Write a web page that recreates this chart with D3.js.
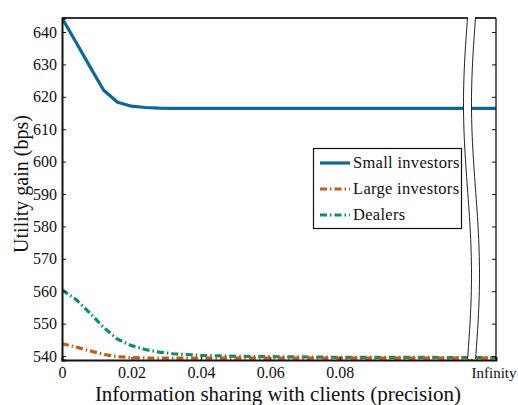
<!DOCTYPE html>
<html>
<head>
<meta charset="utf-8">
<script src="https://cdn.jsdelivr.net/npm/d3@7/dist/d3.min.js"></script>
<style>
  html, body { margin: 0; padding: 0; background: #fff; }
  svg { display: block; font-family: "Liberation Serif", "DejaVu Serif", serif; }
</style>
</head>
<body>
<svg id="chart" width="518" height="405"></svg>
<script>
// Precision grid (finite part) and the value used for the "Infinity" column
const precision = [0, 0.004, 0.008, 0.012, 0.016, 0.02, 0.024, 0.028, 0.032, 0.04, 0.05, 0.06, 0.08, 0.1, 0.116];
const infinityPos = 0.125;

// Utility gain (bps) per group
const smallInvestors = [644.3, 636.9, 629.4, 622.0, 618.3, 617.1, 616.7, 616.5, 616.45, 616.4, 616.4, 616.4, 616.4, 616.4, 616.4];
const largeInvestors = [543.8, 542.8, 541.6, 540.5, 539.8, 539.5, 539.4, 539.35, 539.35, 539.35, 539.35, 539.35, 539.35, 539.35, 539.35];
const dealers        = [560.4, 557.5, 553.3, 548.8, 545.2, 543.2, 542.0, 541.2, 540.7, 540.2, 539.9, 539.8, 539.6, 539.6, 539.5];
const smallInf = 616.4, largeInf = 539.35, dealersInf = 539.5;

const xTicks = [0, 0.02, 0.04, 0.06, 0.08];
const xTickLabels = ["0", "0.02", "0.04", "0.06", "0.08"];
const yTicks = [540, 550, 560, 570, 580, 590, 600, 610, 620, 630, 640];
const seriesNames = ["Small investors", "Large investors", "Dealers"];
const seriesColors = ["#0b679c", "#c85a12", "#0a8f6c"];

const svg = d3.select("#chart");
const L = 62, R = 496, T = 18, B = 360;
const FONT = "Liberation Serif, serif";

const x = d3.scaleLinear().domain([0, infinityPos]).range([L, R]);
const y = d3.scaleLinear().domain([538.77, 644.32]).range([B, T]);

const series = [
  { name: seriesNames[0], color: seriesColors[0], vals: smallInvestors, inf: smallInf, dash: null },
  { name: seriesNames[1], color: seriesColors[1], vals: largeInvestors, inf: largeInf, dash: "7,3,1.5,3" },
  { name: seriesNames[2], color: seriesColors[2], vals: dealers, inf: dealersInf, dash: "7,3,1.5,3" }
];

const line = d3.line().x(d => x(d[0])).y(d => y(d[1]));

svg.append("clipPath").attr("id", "plotClip")
  .append("rect").attr("x", L).attr("y", T - 2).attr("width", R - L).attr("height", B - T + 2);

const gLines = svg.append("g").attr("clip-path", "url(#plotClip)");
series.slice().reverse().forEach(s => {
  const pts = precision.map((p, i) => [p, s.vals[i]]).concat([[infinityPos, s.inf]]);
  gLines.append("path")
    .attr("d", line(pts))
    .attr("fill", "none")
    .attr("stroke", s.color)
    .attr("stroke-width", 3.2)
    .attr("stroke-dasharray", s.dash)
    .attr("stroke-linejoin", "round");
});

// Frame
svg.append("line").attr("x1", L).attr("x2", R).attr("y1", T).attr("y2", T)
  .attr("stroke", "#333").attr("stroke-width", 1.8);
svg.append("line").attr("x1", R).attr("x2", R).attr("y1", T).attr("y2", B)
  .attr("stroke", "#222").attr("stroke-width", 1.4);

// Left axis
const yAxis = d3.axisLeft(y).tickValues(yTicks).tickSize(-4).tickPadding(5);
const gy = svg.append("g").attr("transform", `translate(${L},0)`).call(yAxis);
gy.attr("font-family", FONT);
gy.select(".domain").attr("stroke", "#111").attr("stroke-width", 2);
gy.selectAll(".tick line").attr("stroke", "#111");
gy.selectAll(".tick text").attr("font-size", 16).attr("fill", "#111")
  .attr("font-family", FONT);

// Right axis mirror ticks
const yAxisR = d3.axisRight(y).tickValues(yTicks).tickSize(-4).tickFormat("");
const gyr = svg.append("g").attr("transform", `translate(${R},0)`).call(yAxisR);
gyr.select(".domain").remove();
gyr.selectAll(".tick line").attr("stroke", "#111");

// Bottom axis
const xAxis = d3.axisBottom(x)
  .tickValues(xTicks.concat([infinityPos]))
  .tickFormat((d, i) => i < xTickLabels.length ? xTickLabels[i] : "Infinity")
  .tickSize(-3).tickPadding(7);
const gx = svg.append("g").attr("transform", `translate(0,${B})`).call(xAxis);
gx.attr("font-family", FONT);
gx.select(".domain").attr("stroke", "#111").attr("stroke-width", 2);
gx.selectAll(".tick line").attr("stroke", "#111");
gx.selectAll(".tick text").attr("font-size", 16).attr("fill", "#111")
  .attr("font-family", FONT);
// keep the "Infinity" label inside the canvas
gx.selectAll(".tick text").filter(d => d === infinityPos)
  .attr("font-size", 15).attr("text-anchor", "end").attr("x", 20);

// Axis break between the finite grid and Infinity
const bx = 467.5, gap = 8, amp = 4;
const breakY = d3.range(0, 61).map(i => T - 1 + (B - 1 - (T - 1)) * i / 60);
const curve = off => breakY.map(yy => [bx + off - amp * Math.sin(2 * Math.PI * (yy - T) / (B - T)), yy]);
const leftEdge = curve(0), rightEdge = curve(gap);
const raw = d3.line();
svg.append("path")
  .attr("d", raw(leftEdge.concat(rightEdge.slice().reverse())) + "Z")
  .attr("fill", "#fff").attr("stroke", "none");
[leftEdge, rightEdge].forEach(c => {
  svg.append("path").attr("d", raw(c)).attr("fill", "none")
    .attr("stroke", "#222").attr("stroke-width", 1);
});

// Legend
const lg = svg.append("g");
lg.append("rect").attr("x", 313.5).attr("y", 148.5).attr("width", 148).attr("height", 80)
  .attr("fill", "#fff").attr("stroke", "#111").attr("stroke-width", 1.2);
const rowY = [163, 189, 215];
series.forEach((s, i) => {
  lg.append("line").attr("x1", 320).attr("x2", 350).attr("y1", rowY[i]).attr("y2", rowY[i])
    .attr("stroke", s.color).attr("stroke-width", 3.2).attr("stroke-dasharray", s.dash);
  lg.append("text").attr("x", 353).attr("y", rowY[i] + 5)
    .attr("font-size", 16.5).attr("letter-spacing", 0.3).attr("fill", "#111").text(s.name);
});

// Axis titles
svg.append("text").attr("x", 278).attr("y", 401).attr("text-anchor", "middle")
  .attr("font-size", 21).attr("fill", "#111")
  .text("Information sharing with clients (precision)");
svg.append("text").attr("transform", "translate(28,184) rotate(-90)")
  .attr("text-anchor", "middle").attr("font-size", 20).attr("fill", "#111")
  .text("Utility gain (bps)");
</script>
</body>
</html>
